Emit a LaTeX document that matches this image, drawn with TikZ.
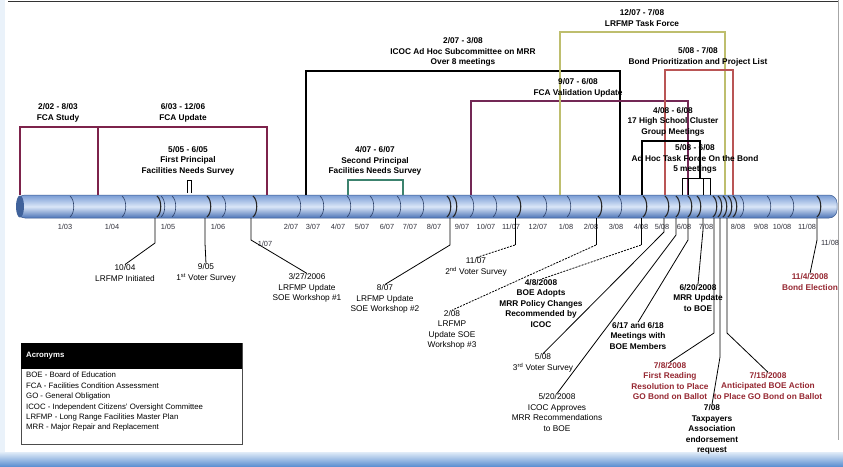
\documentclass[tikz,border=0pt]{standalone}
\usepackage{fontspec}
\setmainfont{Liberation Sans}
\definecolor{marc}{RGB}{125,35,75}
\definecolor{fcavc}{RGB}{115,40,85}
\definecolor{tealc}{RGB}{60,130,110}
\definecolor{olivec}{RGB}{190,190,110}
\definecolor{bondc}{RGB}{185,85,85}
\definecolor{redtxt}{RGB}{150,40,50}
\definecolor{axisgray}{RGB}{50,50,60}
\definecolor{barTop}{RGB}{120,155,212}
\definecolor{barMid}{RGB}{218,230,248}
\definecolor{barBot}{RGB}{75,115,182}
\definecolor{tickc}{RGB}{40,60,100}
\definecolor{bandTop}{RGB}{225,236,248}
\definecolor{bandBot}{RGB}{95,145,210}
\newcommand\mytick[2]{\draw[#1] (#2,196) .. controls ({#2+5},200) and ({#2+5},213) .. (#2,217);}
\begin{document}
\begin{tikzpicture}[x=1pt,y=-1pt,
  lb/.style={font=\fontsize{8.3}{10.5}\selectfont\bfseries, align=center, inner sep=0pt},
  lr/.style={font=\fontsize{8.3}{10.5}\selectfont, align=center, inner sep=0pt},
  ax/.style={font=\fontsize{7.4}{8}\selectfont, text=axisgray, inner sep=0pt},
  brk/.style={line width=1.2pt},
  con/.style={line width=0.8pt, draw=black},
  dcon/.style={con, dash pattern=on 2pt off 1.2pt},
  tk/.style={line width=0.6pt, draw=tickc},
  tkd/.style={line width=1.1pt, draw=black!85},
]
\useasboundingbox (0,0) rectangle (843,466);
\fill[white] (0,0) rectangle (843,466);
% frame decorations
\fill[bandTop!70] (0,0) rectangle (5,466);
\shade[top color=bandTop, bottom color=bandBot] (0,452) rectangle (843,466);
\draw[line width=1.4pt, black!80] (8,1.5) -- (838,1.5);
\draw[line width=0.6pt, black!35] (838,0) -- (838,440);

% timeline bar
\shade[top color=barTop, bottom color=barBot, middle color=barMid, rounded corners=8pt] (17,195) rectangle (837,218);
\draw[line width=0.5pt, barBot!80!black, rounded corners=8pt] (17,195) rectangle (837,218);
\fill[barBot!85!black] (20,206.5) ellipse [x radius=4pt, y radius=11pt];
\foreach \p in {70,122,161,172,222,297,320,347,370,397,420,470,493,543,567,618,740,767,790}{\mytick{tk}{\p}}
\foreach \p in {157,207,253,447,453,517,598,643,665,676,688,697,713,718,723,728,733,817}{\mytick{tkd}{\p}}

% axis labels
\node[ax] (m103) at (65,227) {1/03};
\node[ax] (m104) at (112,227) {1/04};
\node[ax] (m105) at (168,227) {1/05};
\node[ax] (m106) at (218,227) {1/06};
\node[ax] (m207) at (291,227) {2/07};
\node[ax] (m307) at (313,227) {3/07};
\node[ax] (m407) at (338,227) {4/07};
\node[ax] (m507) at (362,227) {5/07};
\node[ax] (m607) at (387,227) {6/07};
\node[ax] (m707) at (410,227) {7/07};
\node[ax] (m807) at (434,227) {8/07};
\node[ax] (m907) at (462,227) {9/07};
\node[ax] (m1007) at (486,227) {10/07};
\node[ax] (m1107) at (511,227) {11/07};
\node[ax] (m1207) at (538,227) {12/07};
\node[ax] (m108) at (566,227) {1/08};
\node[ax] (m208) at (591,227) {2/08};
\node[ax] (m308) at (616,227) {3/08};
\node[ax] (m408) at (641,227) {4/08};
\node[ax] (m508) at (662,227) {5/08};
\node[ax] (m608) at (684,227) {6/08};
\node[ax] (m708) at (706,227) {7/08};
\node[ax] (m808) at (738,227) {8/08};
\node[ax] (m908) at (761,227) {9/08};
\node[ax] (m1008) at (782,227) {10/08};
\node[ax] (m1108) at (807,227) {11/08};
\node[ax] (x107) at (265,244) {1/07};
\node[ax] (x1108) at (830,243) {11/08};

% top brackets
\draw[brk, marc] (20,195) -- (20,127) -- (267,127) -- (267,195);
\draw[brk, marc] (98,127) -- (98,195);
\draw[line width=0.7pt] (187,193) -- (187,180) -- (191,180) -- (191,193);
\draw[brk, black] (306,195) -- (306,71) -- (620,71) -- (620,195);
\draw[brk, tealc] (348,195) -- (348,180) -- (403,180) -- (403,195);
\draw[brk, fcavc] (471,195) -- (471,101) -- (688,101) -- (688,195);
\draw[brk, olivec] (560,195) -- (560,32) -- (725,32) -- (725,195);
\draw[brk, bondc] (665,195) -- (665,70) -- (733,70) -- (733,195);
\draw[brk, black] (642,195) -- (642,141) -- (700,141) -- (700,178);
\draw[line width=0.9pt, black] (682,195) -- (682,178) -- (710,178) -- (710,195);
\draw[line width=0.9pt, black] (688,178) -- (688,195);
\draw[line width=0.9pt, black] (703,178) -- (703,195);

% top labels
\node[lb] (fcas) at (58,113) {2/02 - 8/03\\FCA Study};
\node[lb] (fcau) at (183,113) {6/03 - 12/06\\FCA Update};
\node[lb] (fps1) at (188,160.5) {5/05 - 6/05\\First Principal\\Facilities Needs Survey};
\node[lb, fill=white, inner sep=1pt] (icoc) at (463,52) {2/07 - 3/08\\ICOC Ad Hoc Subcommittee on MRR\\Over 8 meetings};
\node[lb] (fps2) at (375,161) {4/07 - 6/07\\Second Principal\\Facilities Needs Survey};
\node[lb] (task) at (642,18) {12/07 - 7/08\\LRFMP Task Force};
\node[lb] (fcav) at (578,88) {9/07 - 6/08\\FCA Validation Update};
\node[lb] (bond) at (698,57) {5/08 - 7/08\\Bond Prioritization and Project List};
\node[lb] (hs17) at (673,121.5) {4/08 - 6/08\\17 High School Cluster\\Group Meetings};
\node[lb] (adhoc) at (695,159) {5/08 - 6/08\\Ad Hoc Task Force On the Bond\\5 meetings};

% bottom labels
\node[lr] (c1004) at (125,273) {10/04\\LRFMP Initiated};
\node[lr] (c905) at (206,273) {9/05\\1\textsuperscript{st} Voter Survey};
\node[lr] (c327) at (307,288) {3/27/2006\\LRFMP Update\\SOE Workshop \#1};
\node[lr] (c807) at (385,299) {8/07\\LRFMP Update\\SOE Workshop \#2};
\node[lr] (c1107) at (476,267) {11/07\\2\textsuperscript{nd} Voter Survey};
\node[lr] (c208) at (452,330) {2/08\\LRFMP\\Update SOE\\Workshop \#3};
\node[lb] (c408) at (541,303.5) {4/8/2008\\BOE Adopts\\MRR Policy Changes\\Recommended by\\ICOC};
\node[lr] (c508) at (543,363) {5/08\\3\textsuperscript{rd} Voter Survey};
\node[lr] (c520) at (557,412.5) {5/20/2008\\ICOC Approves\\MRR Recommendations\\to BOE};
\node[lb] (c617) at (638,336) {6/17 and 6/18\\Meetings with\\BOE Members};
\node[lb] (c620) at (698,298) {6/20/2008\\MRR Update\\to BOE};
\node[lb, text=redtxt] (c708a) at (670,381) {7/8/2008\\First Reading\\Resolution to Place\\GO Bond on Ballot};
\node[lb] (c708b) at (712,429.5) {7/08\\Taxpayers\\Association\\endorsement\\request};
\node[lb, text=redtxt] (c715) at (768,386) {7/15/2008\\Anticipated BOE Action\\to Place GO Bond on Ballot};
\node[lb, text=redtxt] (c1104) at (810,282) {11/4/2008\\Bond Election};

% connector anchor points on the bar
\coordinate (t1004) at (155,218);
\coordinate (t905) at (205,218);
\coordinate (t327) at (251,218);
\coordinate (t807) at (450,218);
\coordinate (t1107) at (515,218);
\coordinate (t208) at (596,218);
\coordinate (t408) at (641,218);
\coordinate (t508) at (664,218);
\coordinate (t520) at (676,218);
\coordinate (t617) at (688,218);
\coordinate (t620) at (703,218);
\coordinate (t708a) at (714,218);
\coordinate (t708b) at (720,218);
\coordinate (t715) at (727,218);
\coordinate (t1104) at (817,218);

% connectors
\draw[con] (t1004) -- ++(0,25) -- (c1004.north);
\draw[con] (t905) -- ++(0,25) -- (c905.north);
\draw[con] (t327) -- ++(0,22) -- (c327.north);
\draw[con] (t807) -- ++(0,27) -- (c807.north);
\draw[con] (t1107) -- ++(0,27) coordinate (b1107);
\draw[dcon] (b1107) -- (c1107.north);
\draw[con] (t208) -- ++(0,27) coordinate (b208);
\draw[dcon] (b208) -- (c208.north);
\draw[con] (t408) -- ++(0,27) coordinate (b408);
\draw[dcon] (b408) -- (c408.north);
\draw[con] (t508) -- ++(0,14) -- (c508.north);
\draw[con] (t520) -- ++(0,17) -- (c520.north);
\draw[con] (t617) -- ++(0,22) -- (c617.north);
\draw[con] (t620) -- ++(0,12) -- (c620.north);
\draw[con] (t708a) -- ++(0,115) -- (c708a.north);
\draw[con] (t708b) -- ++(0,139) -- (c708b.north);
\draw[con] (t715) -- ++(0,115) -- (c715.north);
\draw[con] (t1104) -- ++(0,22) -- (c1104.north);

% acronyms box
\node[draw=black!70, line width=0.8pt, minimum width=221pt, minimum height=101pt, anchor=north west, inner sep=0pt] (acr) at (21,343) {};
\fill[black] (acr.north west) rectangle (242,369);
\node[anchor=west, text=white, font=\fontsize{7.8}{9}\selectfont\bfseries, inner sep=0pt] (acrh) at (26,356) {Acronyms};
\node[anchor=north west, align=left, font=\fontsize{7.8}{10.4}\selectfont, inner sep=0pt] (acrb) at (26,372) {BOE - Board of Education\\FCA - Facilities Condition Assessment\\GO - General Obligation\\ICOC - Independent Citizens' Oversight Committee\\LRFMP - Long Range Facilities Master Plan\\MRR - Major Repair and Replacement};
\end{tikzpicture}
\end{document}
